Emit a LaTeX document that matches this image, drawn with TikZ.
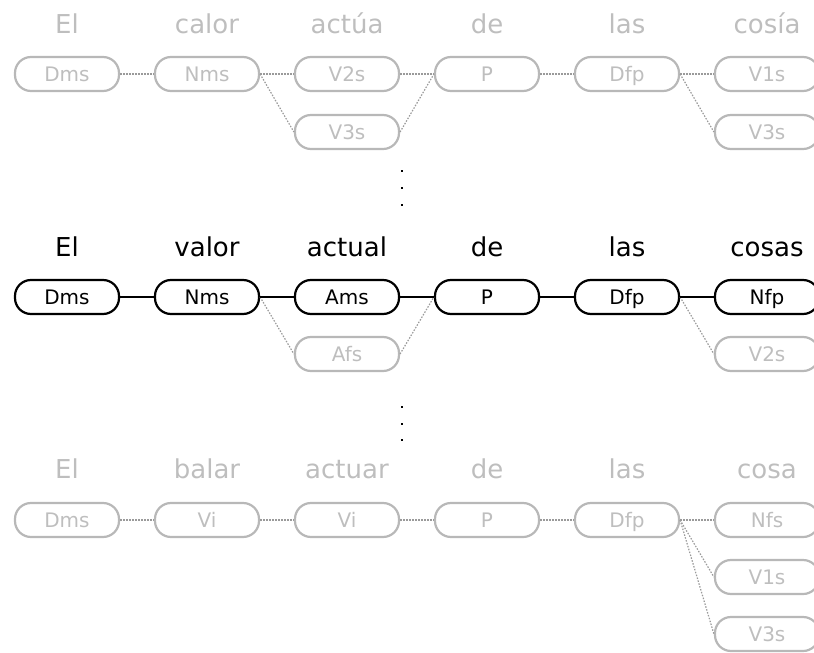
\documentclass[tikz,border=0pt]{standalone}
\usepackage{fontspec}
\setmainfont{DejaVu Sans}
\definecolor{ghost}{HTML}{B8B8B8}
\definecolor{ghosttext}{HTML}{BEBEBE}
\definecolor{ghostline}{HTML}{9A9A9A}
\tikzset{
  tag/.style={draw=black, line width=2.2pt, rounded corners=16pt, minimum width=104pt, minimum height=34pt,
    inner sep=0pt, text height=14pt, text depth=0pt, font=\fontsize{20pt}{20pt}\selectfont, text=black},
  gtag/.style={tag, draw=ghost, text=ghosttext},
  word/.style={anchor=base, font=\fontsize{26pt}{26pt}\selectfont, text=black, inner sep=0pt},
  gword/.style={word, text=ghosttext},
  link/.style={draw=black, line width=2.2pt},
  glink/.style={draw=ghostline, line width=1.2pt, dash pattern=on 1.5pt off 1.5pt},
  dot/.style={fill=black, minimum size=2.6pt, inner sep=0pt, draw=none, rectangle}
}
\begin{document}
\begin{tikzpicture}[x=1pt,y=-1pt]
\useasboundingbox (0,0) rectangle (814,653);
\clip (0,0) rectangle (814,653);
% ---------- row 1 ----------
\node[gword] (w11) at (67,33) {El};
\node[gword] (w12) at (207,33) {calor};
\node[gword] (w13) at (347,33) {actúa};
\node[gword] (w14) at (487,33) {de};
\node[gword] (w15) at (627,33) {las};
\node[gword] (w16) at (767,33) {cosía};
\node[gtag] (a1) at (67,74) {Dms};
\node[gtag] (a2) at (207,74) {Nms};
\node[gtag] (a3) at (347,74) {V2s};
\node[gtag] (a3b) at (347,132) {V3s};
\node[gtag] (a4) at (487,74) {P};
\node[gtag] (a5) at (627,74) {Dfp};
\node[gtag] (a6) at (767,74) {V1s};
\node[gtag] (a6b) at (767,132) {V3s};
\draw[glink] (a1.east) -- (a2.west);
\draw[glink] (a2.east) -- (a3.west);
\draw[glink] (a2.east) -- (a3b.west);
\draw[glink] (a3.east) -- (a4.west);
\draw[glink] (a3b.east) -- (a4.west);
\draw[glink] (a4.east) -- (a5.west);
\draw[glink] (a5.east) -- (a6.west);
\draw[glink] (a5.east) -- (a6b.west);
% dots
\node[dot] (d1) at (402,171) {};
\node[dot] (d2) at (402,188) {};
\node[dot] (d3) at (402,205) {};
% ---------- row 2 ----------
\node[word] (w21) at (67,256) {El};
\node[word] (w22) at (207,256) {valor};
\node[word] (w23) at (347,256) {actual};
\node[word] (w24) at (487,256) {de};
\node[word] (w25) at (627,256) {las};
\node[word] (w26) at (767,256) {cosas};
\node[gtag] (b3b) at (347,354) {Afs};
\node[gtag] (b6b) at (767,354) {V2s};
\node[tag] (b1) at (67,297) {Dms};
\node[tag] (b2) at (207,297) {Nms};
\node[tag] (b3) at (347,297) {Ams};
\node[tag] (b4) at (487,297) {P};
\node[tag] (b5) at (627,297) {Dfp};
\node[tag] (b6) at (767,297) {Nfp};
\draw[glink] (b2.east) -- (b3b.west);
\draw[glink] (b3b.east) -- (b4.west);
\draw[glink] (b5.east) -- (b6b.west);
\draw[link] (b1.east) -- (b2.west);
\draw[link] (b2.east) -- (b3.west);
\draw[link] (b3.east) -- (b4.west);
\draw[link] (b4.east) -- (b5.west);
\draw[link] (b5.east) -- (b6.west);
% dots
\node[dot] (d4) at (402,407) {};
\node[dot] (d5) at (402,424) {};
\node[dot] (d6) at (402,440) {};
% ---------- row 3 ----------
\node[gword] (w31) at (67,478) {El};
\node[gword] (w32) at (207,478) {balar};
\node[gword] (w33) at (347,478) {actuar};
\node[gword] (w34) at (487,478) {de};
\node[gword] (w35) at (627,478) {las};
\node[gword] (w36) at (767,478) {cosa};
\node[gtag] (c1) at (67,520) {Dms};
\node[gtag] (c2) at (207,520) {Vi};
\node[gtag] (c3) at (347,520) {Vi};
\node[gtag] (c4) at (487,520) {P};
\node[gtag] (c5) at (627,520) {Dfp};
\node[gtag] (c6) at (767,520) {Nfs};
\node[gtag] (c6b) at (767,577) {V1s};
\node[gtag] (c6c) at (767,634) {V3s};
\draw[glink] (c1.east) -- (c2.west);
\draw[glink] (c2.east) -- (c3.west);
\draw[glink] (c3.east) -- (c4.west);
\draw[glink] (c4.east) -- (c5.west);
\draw[glink] (c5.east) -- (c6.west);
\draw[glink] (c5.east) -- (c6b.west);
\draw[glink] (c5.east) -- (c6c.west);
\end{tikzpicture}
\end{document}
